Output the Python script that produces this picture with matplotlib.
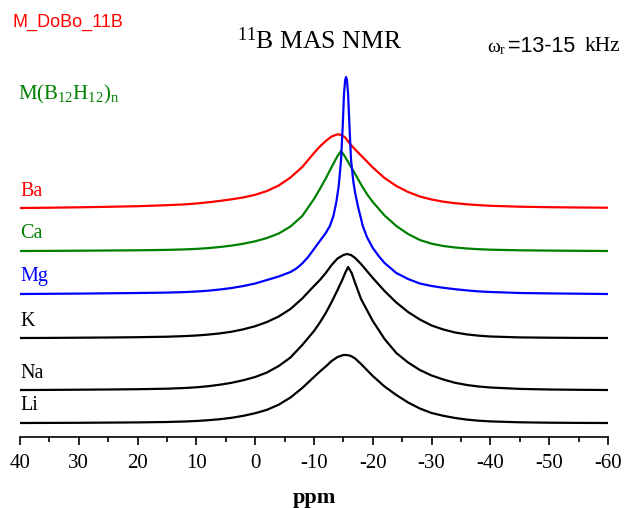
#!/usr/bin/env python3
# -*- coding: utf-8 -*-

import matplotlib
matplotlib.use("Agg")
import matplotlib.pyplot as plt
from matplotlib.ticker import MultipleLocator

# Spectra: chemical shift (ppm) and intensity (arb. units)
BA_PPM = [40, 35, 30, 25, 20, 15, 12, 10, 8, 6, 4, 2, 0, -2, -4, -6, -8, -10, -11, -12, -13,
          -14, -14.7, -15.3, -16, -17, -18, -19, -20, -22, -24, -26, -28, -30, -32, -34, -36,
          -38, -40, -45, -50, -55, -60]
BA_INT = [0, 0.3, 0.7, 1.2, 1.8, 2.8, 3.6, 4.5, 5.7, 7.1, 8.7, 10.6, 13.2, 17, 22.5, 30.5, 41,
          55, 61.5, 67, 71.5, 73.7, 73, 70.5, 65, 58.5, 52.5, 46.5, 40.5, 30, 22, 16, 11.5,
          8.5, 6.3, 4.8, 3.7, 2.9, 2.2, 1.3, 0.8, 0.5, 0.3]

CA_PPM = [40, 35, 30, 25, 20, 15, 12, 10, 8, 6, 4, 2, 0, -2, -4, -6, -8, -10, -11, -12, -13,
          -14, -14.6, -15.2, -16, -17, -18, -19, -20, -22, -24, -26, -28, -30, -32, -34, -36,
          -38, -40, -45, -50, -55, -60]
CA_INT = [0, 0.1, 0.3, 0.5, 0.7, 1.1, 1.6, 2.1, 2.9, 4.0, 5.4, 7.3, 9.7, 13, 17.5, 24.5, 35,
          52, 62, 72.5, 84, 95, 100, 95, 87, 77, 66.5, 57, 49, 35.5, 25, 17, 11, 7.3, 5,
          3.5, 2.5, 1.8, 1.3, 0.7, 0.4, 0.2, 0]

MG_PPM = [40, 35, 30, 25, 20, 15, 12, 10, 8, 6, 4, 2, 0, -2, -4, -6, -7, -8, -9, -10, -11,
          -12, -12.7, -13.3, -13.8, -14.2, -14.6, -14.9, -15.1, -15.3, -15.45, -15.6, -15.8,
          -16.0, -16.3, -16.7, -17.0, -17.5, -18.3, -19, -20, -21, -22, -24, -26, -28, -30,
          -32, -34, -36, -38, -40, -45, -50, -55, -60]
MG_INT = [0, 0.2, 0.4, 0.7, 1.0, 1.4, 1.9, 2.5, 3.3, 4.5, 6, 8, 10.5, 14, 17.5, 22, 25.5,
          30.5, 37, 45, 53, 61, 68, 78, 92, 108, 134, 170, 200, 214, 217, 214, 200,
          172, 134, 112, 101, 87, 68, 57, 46, 38, 31, 21, 15, 10.5, 8,
          6.2, 4.8, 3.6, 2.6, 2, 1, 0.6, 0.3, 0]

K_PPM = [40, 35, 30, 25, 20, 15, 12, 10, 8, 6, 4, 2, 0, -2, -4, -6, -8, -10, -11, -12, -13,
         -14, -15, -15.6, -16.3, -17, -18, -19, -20, -22, -24, -26, -28, -30, -32, -34, -36,
         -38, -40, -45, -50, -55, -60]
K_INT = [0, 0.1, 0.3, 0.5, 0.8, 1.3, 1.9, 2.5, 3.4, 4.6, 6.3, 8.7, 11.8, 16, 21.5, 29, 39.5,
         52, 58, 65, 73, 79.5, 83, 84, 83, 80, 74, 67, 60, 47, 35.5, 26, 18.5, 12.5, 8.5,
         5.5, 3.6, 2.3, 1.5, 0.6, 0.3, 0.1, 0]

NA_PPM = [40, 35, 30, 25, 20, 15, 12, 10, 8, 6, 4, 2, 0, -2, -4, -6, -8, -10, -11, -12, -13,
          -14, -14.8, -15.3, -15.8, -16.4, -17, -17.5, -18, -19, -20, -22, -24, -26, -28,
          -30, -32, -34, -36, -38, -40, -45, -50, -55, -60]
NA_INT = [0, 0.1, 0.3, 0.5, 0.8, 1.3, 2.0, 2.7, 3.8, 5.3, 7.2, 9.8, 13, 17.5, 24, 32.5, 45,
          59, 67.5, 77, 88, 100, 110, 117, 123, 117, 107, 99, 91, 80, 69, 51, 37, 27.5, 20,
          14.5, 10.5, 7.2, 5, 3.5, 2.5, 1.1, 0.5, 0.2, 0]

LI_PPM = [40, 35, 30, 25, 20, 15, 12, 10, 8, 6, 4, 2, 0, -2, -4, -6, -8, -10, -11, -12, -13,
          -14, -15, -15.6, -16.3, -17, -18, -19, -20, -22, -24, -26, -28, -30, -32, -34, -36,
          -38, -40, -45, -50, -55, -60]
LI_INT = [0, 0.1, 0.2, 0.4, 0.6, 1.0, 1.5, 2.0, 2.8, 3.8, 5.2, 7.2, 9.8, 13.2, 18.3, 25.5, 35,
          46, 51.5, 56.5, 62, 66, 68, 68, 67, 64.5, 59, 53, 47, 36.5, 28, 20.5, 14.5, 10,
          7.2, 5, 3.4, 2.3, 1.6, 0.7, 0.3, 0.1, 0]

LABELS = ["Ba", "Ca", "Mg", "K", "Na", "Li"]

# layout: vertical offsets of the stacked traces and their colours
OFFSETS = [229, 186, 143, 99, 47, 14]
COLORS = ["#ff0000", "#008000", "#0000ff", "black", "black", "black"]

SERIF = "Liberation Serif"
SANS = "Liberation Sans"


def main() -> None:
    plt.rcParams["font.family"] = SERIF
    plt.rcParams["mathtext.fontset"] = "custom"
    plt.rcParams["mathtext.rm"] = SERIF
    plt.rcParams["mathtext.it"] = SERIF + ":italic"
    plt.rcParams["mathtext.bf"] = SERIF + ":bold"
    plt.rcParams["axes.unicode_minus"] = False

    spectra = [(BA_PPM, BA_INT), (CA_PPM, CA_INT), (MG_PPM, MG_INT),
               (K_PPM, K_INT), (NA_PPM, NA_INT), (LI_PPM, LI_INT)]

    W, H = 624, 508
    fig = plt.figure(figsize=(W / 100, H / 100), dpi=100)
    ax = fig.add_axes([20 / W, (H - 437) / H, 588 / W, 377 / H])

    for (ppm, inten), off, col, lab in zip(spectra, OFFSETS, COLORS, LABELS):
        ax.plot(ppm, [v + off for v in inten], color=col, lw=1.6,
                solid_joinstyle="round", solid_capstyle="round")
        ax.text(40, off + 17, lab, color=col, fontsize=14.5, ha="left", va="center")

    ax.set_xlim(40, -60)
    ax.set_ylim(0, 377)
    ax.xaxis.set_major_locator(MultipleLocator(10))
    ax.xaxis.set_minor_locator(MultipleLocator(5))
    ax.tick_params(axis="x", which="major", direction="out", length=6, width=1.2,
                   labelsize=15, pad=6)
    ax.tick_params(axis="x", which="minor", direction="out", length=3.5, width=1.2)
    ax.set_yticks([])
    for s in ("left", "right", "top"):
        ax.spines[s].set_visible(False)
    ax.spines["bottom"].set_linewidth(1.2)
    ax.set_xlabel("ppm", fontsize=16, fontweight="bold", labelpad=11)

    fig.text(13 / W, 1 - 22 / H, "M_DoBo_11B", color="#ff0000", family=SANS,
             fontsize=13, ha="left", va="center")
    fig.text(320 / W, 1 - 41 / H, r"$\mathrm{^{11}}$B MAS NMR", fontsize=18.5,
             ha="center", va="center")
    fig.text(18 / W, 1 - 94 / H, r"M(B$\mathrm{_{12}}$H$\mathrm{_{12}}$)$\mathrm{_{n}}$",
             color="#008000", fontsize=15, ha="left", va="center")
    fig.text(487 / W, 1 - 48 / H, r"$\mathrm{ω_r}$", fontsize=14, ha="left", va="center")
    fig.text(508 / W, 1 - 46 / H, "=13-15", family=SANS, fontsize=15.5, ha="left", va="center")
    fig.text(585 / W, 1 - 46 / H, "kHz", fontsize=15.5, ha="left", va="center")

    fig.savefig("out.png", dpi=100)
    plt.close(fig)


if __name__ == "__main__":
    main()
